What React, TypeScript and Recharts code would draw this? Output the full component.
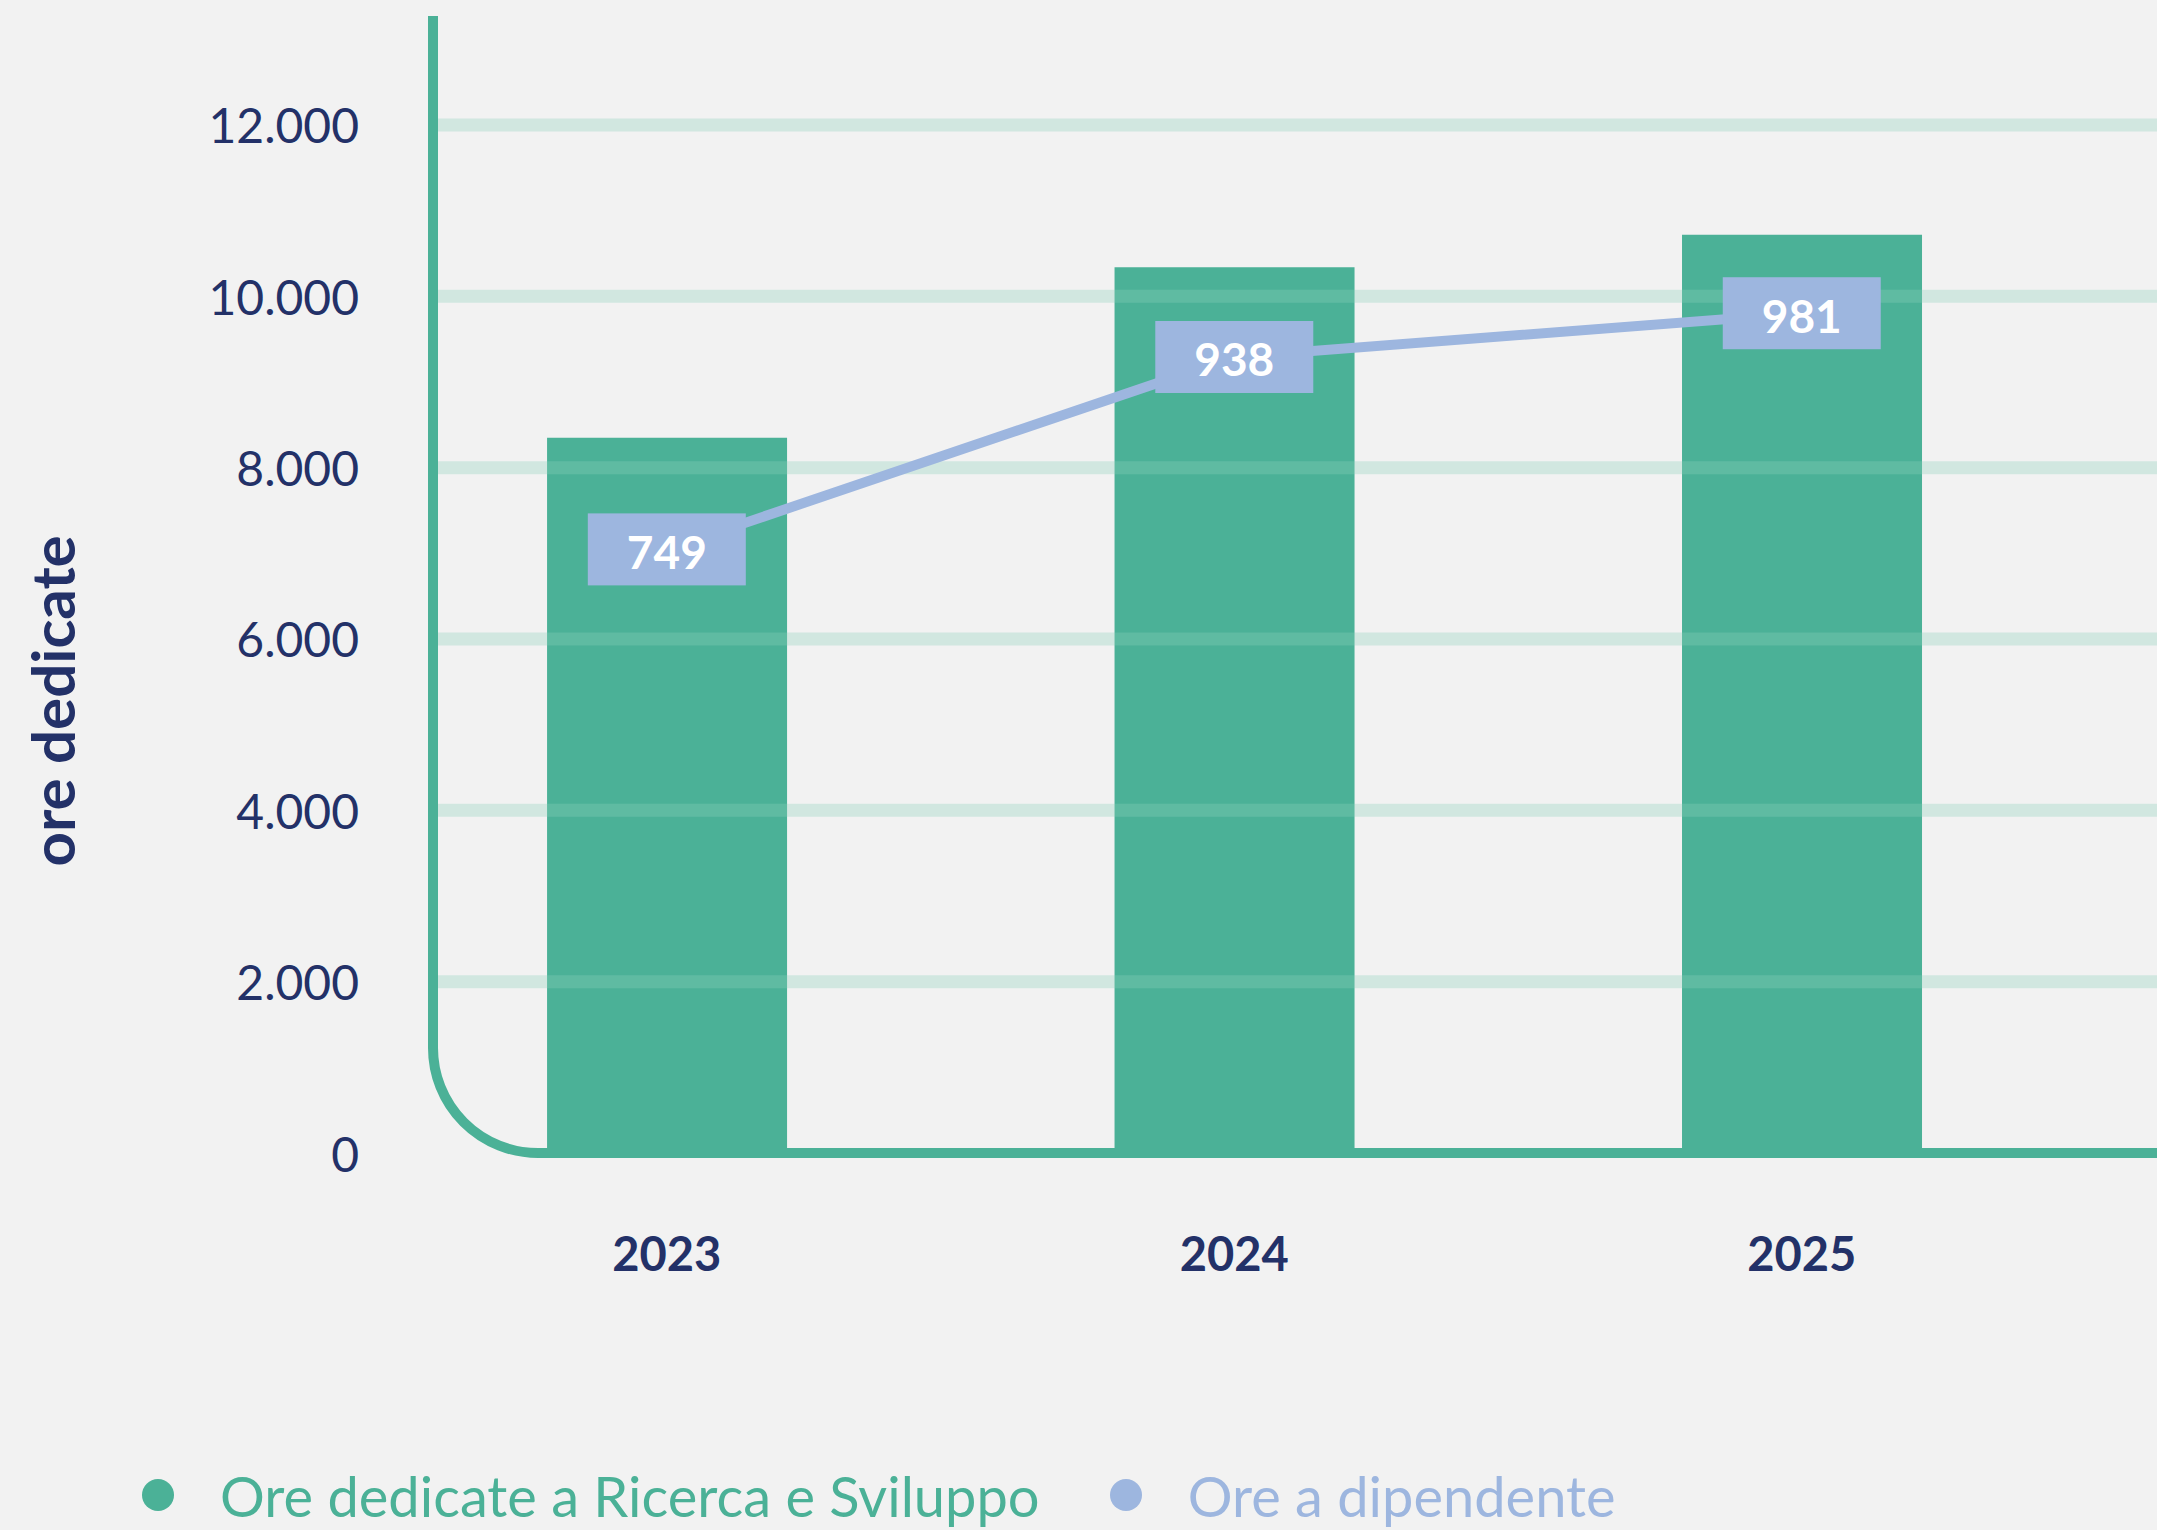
import React from 'react';
import {
  ComposedChart,
  Bar,
  Line,
  XAxis,
  YAxis,
  ReferenceLine,
  LabelList,
} from 'recharts';

const YEARS = [2023, 2024, 2025];
const ORE_RS = [8350, 10340, 10720];
const ORE_DIP = [749, 938, 981];
const Y_TICKS = [0, 2000, 4000, 6000, 8000, 10000, 12000];

const SERIES = [
  { key: 'oreRs', name: 'Ore dedicate a Ricerca e Sviluppo', color: '#4bb197' },
  { key: 'oreDip', name: 'Ore a dipendente', color: '#9db6df' },
];

const DATA = YEARS.map((year, i) => ({
  year,
  oreRs: ORE_RS[i],
  oreDip: ORE_DIP[i],
}));

const NAVY = '#233168';
const GREEN = '#4bb197';
const BLUE = '#9db6df';
const FONT = 'Lato, "Open Sans", sans-serif';

const X_DOMAIN = [2022.588, 2025.626];
const Y_DOMAIN = [0, 13272];
const DIP_DOMAIN = [156, 1273];
const CORNER = 105;

const fmt = (v: number) => String(v).replace(/\B(?=(\d{3})+(?!\d))/g, '.');

const YTick = ({ x, y, payload }: any) => (
  <text x={x} y={y} textAnchor="end" dominantBaseline="central" fill={NAVY} fontSize={48} fontFamily={FONT}>
    {fmt(payload.value)}
  </text>
);

const XTick = ({ x, y, payload }: any) => (
  <text x={x} y={y + 100} textAnchor="middle" dominantBaseline="central" fill={NAVY} fontSize={47} fontWeight={700} fontFamily={FONT}>
    {payload.value}
  </text>
);

// vertical axis with the rounded corner into the baseline
const VerticalAxis = ({ x1, y1, y2 }: any) => {
  const top = Math.min(y1, y2);
  const bottom = Math.max(y1, y2);
  return (
    <path
      d={`M${x1},${top} L${x1},${bottom - CORNER} A${CORNER},${CORNER} 0 0 0 ${x1 + CORNER},${bottom}`}
      fill="none"
      stroke={GREEN}
      strokeWidth={10}
    />
  );
};

const BaseAxis = ({ x1, x2, y1 }: any) => (
  <path d={`M${Math.min(x1, x2) + CORNER - 1},${y1} L${Math.max(x1, x2)},${y1}`} stroke={GREEN} strokeWidth={10} fill="none" />
);

const ValueBox = ({ x, y, value }: any) => (
  <g>
    <rect x={x - 79} y={y - 36} width={158} height={72} fill={BLUE} />
    <text x={x} y={y + 2} textAnchor="middle" dominantBaseline="central" fill="#fff" fontSize={46} fontWeight={700} fontFamily={FONT}>
      {value}
    </text>
  </g>
);

const AxisTitle = ({ viewBox }: any) => {
  const cx = viewBox.x + 52;
  const cy = viewBox.y + 685;
  return (
    <text x={cx} y={cy} transform={`rotate(-90 ${cx} ${cy})`} textAnchor="middle" dominantBaseline="central" fill={NAVY} fontSize={60} fontWeight={700} fontFamily={FONT}>
      ore dedicate
    </text>
  );
};

export default function App() {
  return (
    <div style={{ position: 'absolute', left: 0, top: 0, width: 2157, height: 1530, background: '#f2f2f2', overflow: 'hidden' }}>
      <ComposedChart width={2157} height={1330} data={DATA} margin={{ top: 16, right: 0, bottom: 0, left: 0 }}>
        <XAxis
          dataKey="year"
          type="number"
          domain={X_DOMAIN}
          ticks={YEARS}
          axisLine={false}
          tickLine={false}
          tickSize={0}
          tickMargin={0}
          height={177}
          tick={<XTick />}
        />
        <YAxis
          domain={Y_DOMAIN}
          ticks={Y_TICKS}
          axisLine={false}
          tickLine={false}
          tickSize={0}
          tickMargin={74}
          width={433}
          tick={<YTick />}
          label={<AxisTitle />}
        />
        <YAxis yAxisId="dip" orientation="right" hide domain={DIP_DOMAIN} />
        <Bar dataKey="oreRs" name={SERIES[0].name} fill={GREEN} barSize={240} isAnimationActive={false} />
        {Y_TICKS.filter((t) => t > 0).map((t) => (
          <ReferenceLine key={t} y={t} stroke="#8cd1ba" strokeOpacity={0.32} strokeWidth={13} />
        ))}
        <ReferenceLine x={X_DOMAIN[0]} shape={<VerticalAxis />} />
        <ReferenceLine y={0} shape={<BaseAxis />} />
        <Line
          yAxisId="dip"
          dataKey="oreDip"
          name={SERIES[1].name}
          stroke={BLUE}
          strokeWidth={10}
          dot={false}
          activeDot={false}
          isAnimationActive={false}
        >
          <LabelList dataKey="oreDip" content={<ValueBox />} />
        </Line>
      </ComposedChart>
      <div style={{ position: 'absolute', left: 142, top: 1460, height: 70, display: 'flex', alignItems: 'center', fontFamily: FONT, fontSize: 56 }}>
        {SERIES.map((s, i) => (
          <div key={s.key} style={{ display: 'flex', alignItems: 'center', marginRight: i === 0 ? 70 : 0 }}>
            <div style={{ width: 32, height: 32, borderRadius: 16, background: s.color, marginRight: 46 }} />
            <span style={{ color: s.color }}>{s.name}</span>
          </div>
        ))}
      </div>
    </div>
  );
}
